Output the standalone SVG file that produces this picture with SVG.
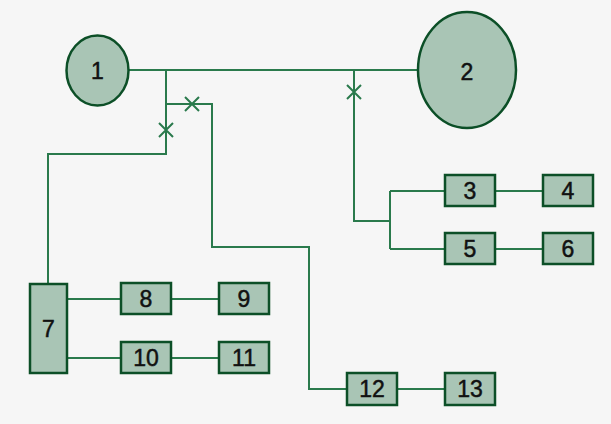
<svg xmlns="http://www.w3.org/2000/svg" width="611" height="424" viewBox="0 0 611 424">
<style>
.n{fill:#a9c5b5;stroke:#0c4f27;stroke-width:2.5}
.t{font-family:"Liberation Sans",Arial,sans-serif;font-size:23px;fill:#111;stroke:#111;stroke-width:0.5;text-anchor:middle;dominant-baseline:central}
.c{fill:none;stroke:#2a7a4c;stroke-width:2}
</style>
<rect width="611" height="424" fill="#f6f6f6"/>
<g id="connectors" class="c">
<path d="M128 70H418"/>
<path d="M166 70V154H48V284"/>
<path d="M166 104H212V247H309V389H347"/>
<path d="M354 70V221H390"/>
<path d="M390 191V249"/>
<path d="M390 191H445M495 191H543"/>
<path d="M390 249H445M495 249H543"/>
<path d="M67 299H121M171 299H219"/>
<path d="M67 358H121M171 358H219"/>
<path d="M397 389H445"/>
<path d="M159 123L173 137M173 123L159 137"/>
<path d="M185 97L199 111M199 97L185 111"/>
<path d="M347 85L361 99M361 85L347 99"/>
</g>
<g id="n1"><ellipse class="n" cx="97.5" cy="70.5" rx="31" ry="35"/><text class="t" x="97.5" y="71">1</text></g>
<g id="n2"><ellipse class="n" cx="467" cy="70" rx="49" ry="58"/><text class="t" x="467" y="72">2</text></g>
<g id="n3"><rect class="n" x="445" y="175" width="50" height="31"/><text class="t" x="470" y="191">3</text></g>
<g id="n4"><rect class="n" x="543" y="175" width="50" height="31"/><text class="t" x="568" y="191">4</text></g>
<g id="n5"><rect class="n" x="445" y="233" width="50" height="31"/><text class="t" x="470" y="249">5</text></g>
<g id="n6"><rect class="n" x="543" y="233" width="50" height="31"/><text class="t" x="568" y="249">6</text></g>
<g id="n7"><rect class="n" x="30" y="284" width="37" height="89"/><text class="t" x="48.5" y="329">7</text></g>
<g id="n8"><rect class="n" x="121" y="283" width="50" height="31"/><text class="t" x="146" y="299">8</text></g>
<g id="n9"><rect class="n" x="219" y="283" width="50" height="31"/><text class="t" x="244" y="299">9</text></g>
<g id="n10"><rect class="n" x="121" y="342" width="50" height="31"/><text class="t" x="146" y="358">10</text></g>
<g id="n11"><rect class="n" x="219" y="342" width="50" height="31"/><text class="t" x="244" y="358">11</text></g>
<g id="n12"><rect class="n" x="347" y="373" width="50" height="32"/><text class="t" x="372" y="389">12</text></g>
<g id="n13"><rect class="n" x="445" y="373" width="50" height="32"/><text class="t" x="470" y="389">13</text></g>
</svg>
